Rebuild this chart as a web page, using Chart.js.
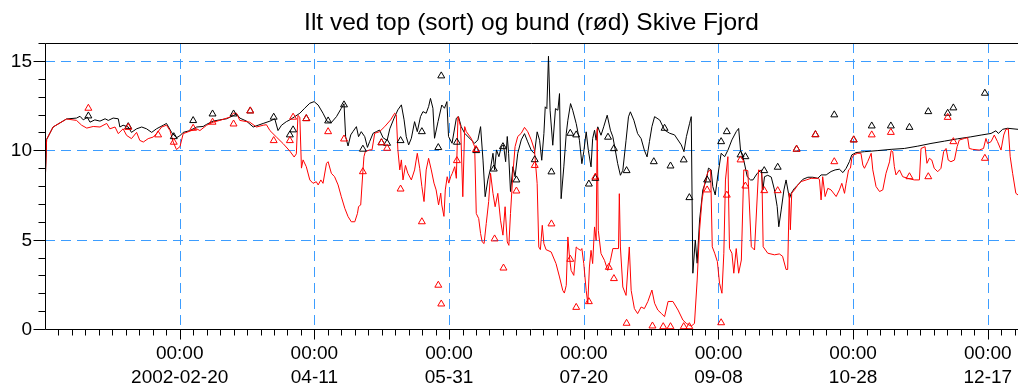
<!DOCTYPE html>
<html lang="da">
<head>
<meta charset="UTF-8">
<title>Ilt ved top og bund - Skive Fjord</title>
<script src="https://cdn.jsdelivr.net/npm/chart.js"></script>
<style>
  * { margin: 0; padding: 0; box-sizing: border-box; }
  body { background: #fff; width: 1018px; height: 383px; overflow: hidden; }
  canvas { display: block; }
</style>
</head>
<body>
<canvas id="chart" width="1018" height="383"></canvas>
<script>
// x values are days counted from 2002-01-01 00:00

// surface oxygen, modelled (black line)
const topDays = [0,0.6,3,8,11.7,13,14.2,15.7,16.7,18.5,20.4,22.3,23.5,25.3,27.2,27.8,29,30.9,32.1,34,35.9,37.7,39.6,41.4,43.9,45.1,47,48.8,50,51.3,53.8,56.3,58.7,60,62.4,64.9,67.4,69.9,71.1,72.3,74.8,77.3,79.1,81,83.5,85.3,86.5,87.8,89.6,90.9,92.7,94.6,96.4,98.3,99.9,101.4,103.2,104.8,106.3,108.2,110,111,111.6,112.5,113.5,114.3,115.6,116.4,117.4,118.7,119.7,120.5,121.8,123,124.2,125.5,127,128,129.6,131,132.3,133.3,134.1,135,136,137.2,138.2,139.4,140.3,141.5,142.4,143.1,144,144.6,145.9,147.3,148.3,149.2,149.8,151.1,152.7,153.5,154.5,155.8,158.2,159.5,160.7,161.7,162.6,163.4,164.4,165.4,166.3,166.9,167.6,168.5,169.4,170.2,171,171.6,172.1,172.8,173.7,174.5,175.5,176.8,178,179.2,180.5,181.7,182.7,183.6,184.4,185.2,185.7,186.3,186.9,187.5,188.5,189.5,190.4,191,191.6,192.6,193.5,194.1,195.1,195.9,197.2,198.4,199.3,200,200.9,201.7,202.7,203.3,204,204.6,205.2,206.4,207.4,208.7,209.9,210.8,211.6,212.6,213.6,214.5,215.7,216.6,217.3,218.6,220,221.3,222.5,223.5,224.4,225.3,226.3,228.2,230,231.9,233.7,236.2,237.2,238.1,239.3,239.9,240.5,241.4,242.1,243,244.2,245.5,246.3,247.3,247.9,248.8,249.8,251,252.3,253.5,255,256.6,257.5,258.2,259.4,260.7,261.9,262.8,264.4,265.9,266.5,267.1,268.3,269.6,270.8,271.8,272.4,273.3,274.3,275.1,276,276.4,277,278.2,279.5,281.3,283.2,285,286.9,288.1,290,291.8,293.3,294.9,296.2,297.4,298.6,299.5,301.1,304.2,309.1,314.1,319,324,328.9,333.9,338.8,343.7,347.5,351.2,353,353.9,355.5,357.3,361.2];
const topVals = [7.9,10.6,11.3,11.75,11.8,11.9,11.7,11.85,11.57,11.7,11.63,11.76,11.67,11.8,11.76,11.3,11.4,11.3,11.0,11.2,11.3,11.2,11.0,11.2,11.4,11.5,11.0,10.7,10.8,11.0,11.1,11.3,11.33,11.45,11.63,11.7,11.76,11.94,12.04,11.8,11.63,11.3,11.4,11.5,11.63,11.76,11.1,11.4,11.6,11.7,11.88,12.07,12.35,12.63,12.72,12.53,12.07,11.6,11.55,11.88,12.35,12.6,10.76,10.24,10.86,11.04,11.32,10.76,11.04,10.76,10.16,10.48,10.95,11.04,11.13,10.7,10.55,11.2,11.8,12.26,12.54,11.7,10.76,10.3,10.67,11.6,11.04,11.88,12.16,12.07,12.44,12.9,12.35,10.67,11.6,12.53,12.35,12.72,10.77,10.39,11.79,11.88,11.32,10.95,10.58,10.39,10.58,11.32,9.45,7.4,8.34,8.99,9.83,8.9,10.02,9.64,10.2,10.3,9.36,10.77,9.83,7.69,9.08,8.52,9.83,10.58,10.93,10.47,10.0,9.81,11.03,10.56,9.44,10.93,12.43,12.33,15.26,12.24,10.28,12.33,12.24,13.17,7.29,9.07,10.93,11.68,12.61,12.24,11.49,10.56,9.25,9.91,11.03,10.0,9.07,10.65,11.12,10.56,11.31,10.84,11.31,11.96,11.12,10.75,10.09,9.25,8.6,8.88,10.56,11.87,12.15,11.68,10.93,10.65,10.0,9.63,10.5,11.32,11.88,11.69,11.13,10.95,10.86,10.3,9.92,10.76,11.51,11.88,3.12,4.98,3.68,6.1,7.78,8.34,9.0,8.9,7.97,7.5,8.62,9.83,9.64,10.0,10.58,11.04,11.22,10.0,9.44,8.52,8.34,8.34,8.71,8.9,7.78,8.52,8.6,8.5,7.78,6.85,5.72,6.66,7.78,8.34,7.59,7.31,7.59,7.87,8.06,8.37,8.49,8.49,8.43,8.62,8.62,8.81,8.9,8.94,8.75,8.99,9.36,9.74,9.87,9.92,9.98,10.05,10.1,10.23,10.38,10.51,10.64,10.75,10.85,10.94,11.09,10.94,11.17,11.23,11.17];

// bottom oxygen, modelled (red line)
const botDays = [0,0.6,3,8,11.7,13.6,15.5,17.9,20.4,22.9,24.1,26,27.2,29,30.3,32.1,34,35.2,36.5,38.3,40.2,41.4,43.3,45.1,46.4,47.6,48.8,50.1,51.3,53.8,56.3,57.5,60,62.4,64.9,68.6,69.9,71.1,72.3,76,78.5,81,82.2,83.5,85.9,88.4,90.9,92.5,93.3,93.9,94.6,95.2,95.8,97,98.3,99.5,100.7,101.4,102.4,103.2,104.5,105.1,106.3,107.5,108.8,110,111.3,112.5,113.7,115,116,116.4,117.2,118,118.4,118.9,120.5,121.4,122.4,124.2,126.1,128.3,129.8,130.4,131,131.7,132.3,132.9,133.8,134.7,136,137.2,138.2,139.1,139.9,140.7,141.5,142.4,143.4,144.4,145.2,146.1,146.9,147.3,148.1,148.6,149.3,149.9,150.6,151.2,152.1,152.7,153.3,154.3,155.1,155.8,156.4,158.2,159.5,160.1,161,161.7,162.3,163,163.8,164.7,165.4,166.3,167.1,168.1,169.1,170,170.8,171.6,172.2,172.8,173.7,174.5,175.5,176.8,178,179.2,180.5,181.7,182.7,183.3,183.9,184.6,185.2,186,187.9,189.7,191,192.2,192.8,193.5,194.1,194.7,195.3,196.3,197.2,197.8,198.8,199.3,200,200.9,201.5,202.1,202.7,203.3,204,204.6,205,205.4,206.4,207.7,208.9,209.9,210.8,212,212.9,213.2,213.6,214.5,215.7,216.9,217.6,218.8,220,221.3,222.5,223.8,225.3,226.3,227.5,228.8,230,231.3,233.1,235,236.8,238.1,239.9,241.1,242.1,243,243.9,244.9,246.1,247.1,247.7,248.6,249.6,250.4,251.3,252,252.6,253.5,254.1,255,255.7,256.6,257.5,258.5,259.4,260.9,262.2,263.4,264.9,266.1,266.6,268.3,270.8,272.6,273.8,275.1,275.7,276.3,276.7,277.2,278.2,279.5,280.7,282.6,284.4,286.9,287.5,288.1,288.7,289.6,290.6,291.8,293.7,294.9,295.8,296.8,297.4,298.3,299,299.5,300.2,301.7,302.9,303.6,304.2,305.4,306.7,307.3,308.5,309.8,311,312.2,313.5,314.1,314.7,315.3,315.9,317.2,318.4,320.3,322.7,324.6,325.2,326.7,327.4,328.3,329.2,330.1,331.4,332.6,333.6,334.5,335.3,336.3,337.6,338.6,339.4,341.3,342.5,343.1,344.4,346.8,348.4,349.3,349.9,351.2,352.4,353.6,354.9,355.9,356.7,357.6,358.3,359.2,360.4,361.2];
const botVals = [7.9,10.6,11.3,11.75,11.67,11.4,11.24,11.33,11.3,11.5,11.2,11.3,10.93,11.2,10.83,10.65,11.0,10.55,10.46,10.65,10.74,10.93,11.3,11.4,11.1,10.46,10.04,10.2,10.93,11.07,11.2,11.1,11.4,11.57,11.67,11.85,12.07,12.07,11.67,11.57,11.3,11.4,11.43,11.1,10.74,10.37,9.95,9.62,9.8,11.95,11.85,9.0,9.46,9.08,8.34,8.15,8.24,8.06,8.34,8.15,9.27,9.36,8.71,8.52,8.06,7.4,6.75,6.29,6.0,6.0,6.47,6.85,6.94,8.8,9.64,9.92,10.02,10.02,10.95,11.04,11.32,11.7,12.07,11.98,10.02,8.9,9.46,8.34,9.15,8.71,8.34,8.9,9.83,8.99,7.97,7.13,8.9,9.55,8.9,8.16,7.78,6.94,7.6,6.94,6.3,7.78,8.52,8.16,8.52,8.71,9.08,8.43,11.88,11.32,7.4,11.32,11.04,10.67,10.2,6.46,6.18,5.34,4.87,4.78,5.9,7.13,8.71,7.59,6.84,7.59,6.09,5.25,6.84,4.87,4.68,6.46,8.71,10.2,10.77,10.95,11.28,11.04,10.58,10.02,8.13,4.59,4.44,5.8,4.78,4.44,4.31,3.66,2.91,2.16,2.01,2.44,5.15,4.03,3.28,3.0,4.59,4.5,4.4,4.5,3.66,2.16,1.42,3.47,4.4,3.66,5.71,4.96,11.21,5.52,4.22,3.84,3.28,3.84,4.5,4.5,4.5,7.57,4.59,2.35,1.88,4.59,2.16,1.14,0.86,1.23,1.14,1.54,2.18,1.44,1.06,0.87,0.69,1.54,1.54,1.06,0.5,0.31,0.16,0.31,2.74,5.54,7.22,8.15,8.8,8.9,4.6,4.24,3.77,2.56,2.0,4.24,8.34,9.64,4.5,4.24,3.12,4.5,3.12,3.86,8.9,8.86,4.6,4.42,8.9,8.8,4.6,4.24,4.15,4.2,4.07,3.33,3.33,7.6,5.55,7.6,7.78,8.06,8.25,8.34,8.43,8.43,8.37,7.22,8.52,7.41,7.87,7.78,7.41,7.78,8.15,7.59,8.15,8.9,9.0,9.55,9.74,9.83,9.83,9.17,8.99,9.36,9.83,8.9,7.97,7.69,7.78,8.71,9.35,9.98,9.92,9.08,8.62,8.9,8.52,8.43,8.34,8.34,10.1,10.2,9.27,9.55,9.45,8.99,8.8,8.99,9.92,10.1,9.45,9.36,9.45,10.2,10.57,10.66,10.7,10.1,10.05,10.01,10.1,10.66,10.38,10.48,10.85,10.48,10.01,10.85,11.17,11.19,9.64,8.71,7.59,7.5];

// surface samples (black triangles)
const topObsDays = [16.1,30.9,47.8,55,62.2,70,76.2,84.9,90.9,92.1,97,105.1,111,118,124.9,127,132,139.9,146,147.1,152.9,160.1,166.6,170,175,181.8,188,195,197.2,201.9,204.3,209,211.2,215.9,226,230,232.2,237.1,239.2,245.8,251,253.1,258.2,260,267,272,279,286,293,300.2,306.9,314,320.9,327.9,335.1,337.2,348.9];
const topObsVals = [11.92,11.32,10.76,11.66,12.03,12.03,12.2,11.85,10.86,11.14,11.77,11.64,12.54,10.06,10.42,10.39,10.54,11.04,10.15,14.16,10.45,9.98,8.95,10.2,8.34,9.47,8.79,10.95,10.86,8.11,8.43,10.73,10.09,8.86,9.36,11.23,9.12,9.46,7.35,8.34,10.48,11.04,9.74,9.64,8.86,9.05,10.06,10.87,11.98,10.58,11.36,11.36,11.28,12.16,12.07,12.37,13.19];

// bottom samples (red triangles)
const botObsDays = [16.1,30.9,42,47.8,55,62.2,70,76.2,84.9,90.9,92.1,97,105.1,111,118,124.9,127,132,139.9,146,147.1,152.9,160,166.9,170.2,175,181.8,188,195,197.2,201.9,204.3,209.3,211.2,215.9,225.5,229.5,232.2,237.1,239.2,245.8,251,253.1,258.2,260,267,272,279,286,293,300.2,306.9,314,320.9,327.9,335.1,337.2,348.9];
const botObsVals = [12.35,11.28,10.86,10.45,11.23,11.57,11.47,12.2,10.54,10.54,11.85,11.77,11.04,10.63,8.8,10.42,10.11,7.83,6.0,2.45,1.4,9.42,10.04,5.04,3.41,7.72,9.15,5.88,3.9,1.21,1.53,8.5,3.45,2.82,0.32,0.17,0.13,0.13,0.13,0.13,7.78,0.35,7.49,9.46,8.0,7.74,7.74,10.06,10.87,9.36,10.58,10.86,11.0,8.52,8.52,11.84,10.48,9.55];

// labelled x ticks (every 50 days) and y ticks
const tickDays = [50, 100, 150, 200, 250, 300, 350];
const tickTimes = ['00:00', '00:00', '00:00', '00:00', '00:00', '00:00', '00:00'];
const tickDates = ['2002-02-20', '04-11', '05-31', '07-20', '09-08', '10-28', '12-17'];
const yTicks = [0, 5, 10, 15];
const titleText = 'Ilt ved top (sort) og bund (rød) Skive Fjord';

const pts = (xs, ys) => xs.map((x, i) => ({ x: x, y: ys[i] }));
const FONT = "'Liberation Sans', Arial, Helvetica, sans-serif";
const GRID_BLUE = '#3c9dff';

// dashed grid underneath the data
const gridLines = {
  id: 'gridLines',
  beforeDatasetsDraw(chart) {
    const { ctx, chartArea: a, scales: { x, y } } = chart;
    ctx.save();
    ctx.lineWidth = 1;
    ctx.strokeStyle = GRID_BLUE;
    ctx.setLineDash([10, 6]);
    tickDays.forEach(d => {
      const px = Math.round(x.getPixelForValue(d)) + 0.5;
      ctx.beginPath();
      ctx.moveTo(px, a.top);
      ctx.lineTo(px, a.bottom);
      ctx.stroke();
    });
    yTicks.filter(v => v > 0).forEach(v => {
      const py = Math.round(y.getPixelForValue(v)) + 0.5;
      ctx.beginPath();
      ctx.moveTo(a.left, py);
      ctx.lineTo(a.right, py);
      ctx.stroke();
    });
    ctx.restore();
  }
};

// frame, tick marks, tick labels and title on top
const frame = {
  id: 'frame',
  afterDraw(chart) {
    const { ctx, chartArea: a, scales: { x, y } } = chart;
    const l = Math.round(a.left) + 0.5, b = Math.round(a.bottom) + 0.5, t = Math.round(a.top) + 0.5;
    ctx.save();
    ctx.setLineDash([]);
    ctx.strokeStyle = '#000';
    ctx.lineWidth = 1;
    ctx.beginPath();
    ctx.moveTo(a.right, t);
    ctx.lineTo(l, t);
    ctx.lineTo(l, b);
    ctx.lineTo(a.right, b);
    for (let v = 0; v <= 16; v++) {
      const py = Math.round(y.getPixelForValue(v)) + 0.5;
      ctx.moveTo(l - (v % 5 === 0 ? 12 : 7), py);
      ctx.lineTo(l, py);
    }
    for (let d = 5; d <= 360; d += 5) {
      const px = Math.round(x.getPixelForValue(d)) + 0.5;
      ctx.moveTo(px, b);
      ctx.lineTo(px, b + (d % 50 === 0 ? 10 : 6));
    }
    ctx.stroke();

    ctx.fillStyle = '#000';
    ctx.textBaseline = 'middle';
    ctx.font = '19px ' + FONT;
    ctx.textAlign = 'right';
    yTicks.forEach(v => ctx.fillText(String(v), a.left - 13, y.getPixelForValue(v) + 1));
    ctx.textAlign = 'center';
    tickDays.forEach((d, i) => {
      const px = x.getPixelForValue(d);
      ctx.fillText(tickTimes[i], px, a.bottom + 25);
      ctx.fillText(tickDates[i], px, a.bottom + 49);
    });

    ctx.font = '24.5px ' + FONT;
    ctx.fillText(titleText, (a.left + a.right) / 2, 23);
    ctx.restore();
  }
};

new Chart(document.getElementById('chart'), {
  type: 'scatter',
  data: {
    datasets: [
      {
        label: 'bund, målt',
        data: pts(botObsDays, botObsVals),
        pointStyle: 'triangle',
        pointRadius: 4,
        borderColor: '#ff0000',
        backgroundColor: 'rgba(0,0,0,0)',
        borderWidth: 1,
        order: 0
      },
      {
        label: 'top, målt',
        data: pts(topObsDays, topObsVals),
        pointStyle: 'triangle',
        pointRadius: 4,
        borderColor: '#000000',
        backgroundColor: 'rgba(0,0,0,0)',
        borderWidth: 1,
        order: 1
      },
      {
        label: 'bund',
        data: pts(botDays, botVals),
        showLine: true,
        fill: false,
        borderColor: '#ff0000',
        backgroundColor: 'rgba(0,0,0,0)',
        borderWidth: 1,
        pointRadius: 0,
        tension: 0,
        order: 2
      },
      {
        label: 'top',
        data: pts(topDays, topVals),
        showLine: true,
        fill: false,
        borderColor: '#000000',
        backgroundColor: 'rgba(0,0,0,0)',
        borderWidth: 1,
        pointRadius: 0,
        tension: 0,
        order: 3
      }
    ]
  },
  options: {
    responsive: false,
    animation: false,
    devicePixelRatio: 1,
    layout: { padding: { top: 43, left: 0, right: 0, bottom: 0 }, autoPadding: false },
    plugins: {
      legend: { display: false },
      tooltip: { enabled: false },
      title: { display: false }
    },
    scales: {
      x: {
        type: 'linear',
        min: 0,
        max: 361.2,
        grid: { display: false, drawTicks: false },
        border: { display: false },
        ticks: { display: false },
        afterFit: s => { s.height = 54; }
      },
      y: {
        type: 'linear',
        min: 0,
        max: 16,
        grid: { display: false, drawTicks: false },
        border: { display: false },
        ticks: { display: false },
        afterFit: s => { s.width = 45; }
      }
    }
  },
  plugins: [gridLines, frame]
});
</script>
</body>
</html>
